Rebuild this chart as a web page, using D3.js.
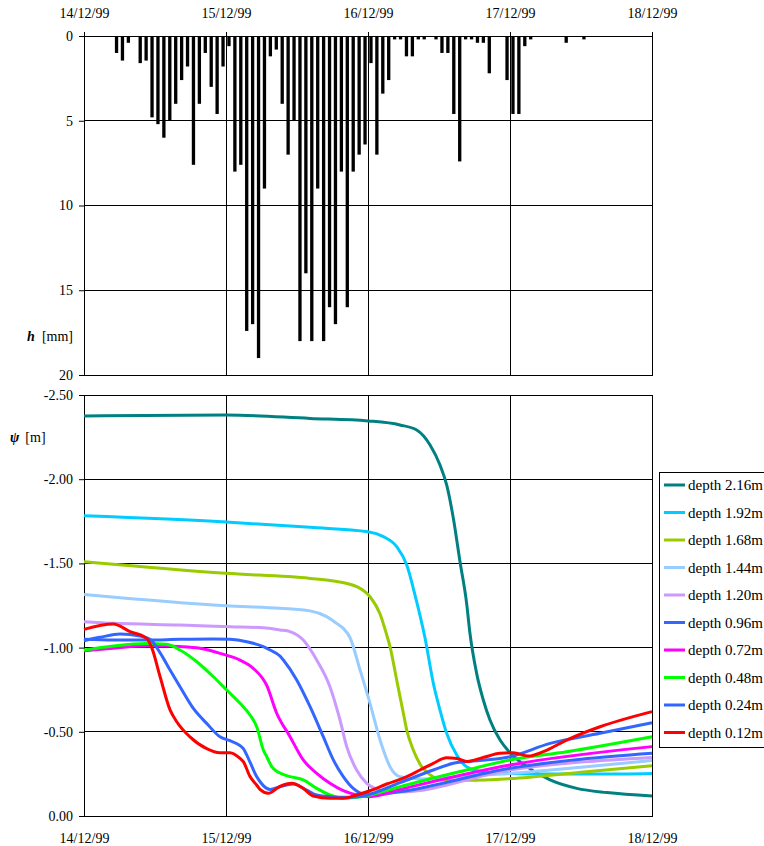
<!DOCTYPE html>
<html>
<head>
<meta charset="utf-8">
<script src="https://cdn.jsdelivr.net/npm/d3@7"></script>
<style>
	body { margin: 0; background: #fff; }
	svg text { font-family: "Liberation Serif", "DejaVu Serif", serif !important; fill: #000; }
	.tick text { font-size: 14px; }
	.grid { stroke: #000; stroke-width: 1; shape-rendering: crispEdges; }
</style>
</head>
<body>
<div id="chart"></div>
<script>
	var width = 764, height = 846;
	var left = 84, right = 652;
	var serif = '"Liberation Serif", "DejaVu Serif", serif';

	// day ticks
	const dayLabels = ['14/12/99', '15/12/99', '16/12/99', '17/12/99', '18/12/99'];

	// hourly rainfall h [mm], hour 0 = 14/12/99 00:00
	const rain = [
		0, 0, 0, 0, 0, 1.0, 1.45, 0.4, 0, 1.6, 1.45, 4.8, 5.2, 6.0, 5.0, 4.0, 2.6, 1.8, 7.6, 4.0, 1.0, 3.0, 4.6, 1.8,
		0.6, 8.0, 7.6, 17.4, 17.0, 19.0, 9.0, 1.2, 0.8, 4.0, 7.0, 5.0, 18.0, 14.0, 18.0, 9.0, 18.0, 16.0, 17.0, 8.0,
		16.0, 8.0, 7.0, 6.4, 1.6, 7.0, 3.4, 2.6, 0.2, 0.2, 1.2, 1.2, 0.2, 0.2, 0, 0.2, 1.0, 1.0, 4.6, 7.4, 0.2, 0.2,
		0.4, 0.4, 2.2, 0, 0, 2.6, 4.6, 4.6, 0.6, 0.2, 0, 0, 0, 0, 0, 0.4, 0, 0, 0.2, 0, 0, 0, 0, 0, 0, 0, 0, 0, 0, 0
	];

	const hTicks = [0, 5, 10, 15, 20];
	const psiTicks = [-2.5, -2.0, -1.5, -1.0, -0.5, 0];
	const psiLabels = ['-2.50', '-2.00', '-1.50', '-1.00', '-0.50', '0.00'];

	const depths = ['depth 2.16m', 'depth 1.92m', 'depth 1.68m', 'depth 1.44m', 'depth 1.20m',
		'depth 0.96m', 'depth 0.72m', 'depth 0.48m', 'depth 0.24m', 'depth 0.12m'];
	const colors = ['#008080', '#00ccff', '#99cc00', '#99ccff', '#cc99ff',
		'#3366ff', '#ff00ff', '#00ff00', '#3366ff', '#ff0000'];

	// psi [m] series, [day since 14/12/99, value]
	const psi216 = [[0, -2.375], [1.0, -2.381], [1.592, -2.361], [2.0, -2.346], [2.225, -2.322], [2.343, -2.292],
		[2.437, -2.203], [2.507, -2.084], [2.554, -1.966], [2.601, -1.768], [2.648, -1.51], [2.695, -1.26],
		[2.718, -1.085], [2.765, -0.847], [2.812, -0.689], [2.859, -0.57], [2.93, -0.451], [3.0, -0.376],
		[3.118, -0.293], [3.282, -0.214], [3.47, -0.164], [3.681, -0.139], [4.0, -0.119]];
	const psi192 = [[0, -1.783], [1.0, -1.746], [1.592, -1.714], [2.0, -1.688], [2.108, -1.659], [2.202, -1.599],
		[2.273, -1.49], [2.331, -1.312], [2.401, -1.06], [2.46, -0.788], [2.507, -0.629], [2.554, -0.491],
		[2.625, -0.362], [2.695, -0.293], [2.812, -0.263], [3.0, -0.253], [3.282, -0.249], [3.634, -0.249], [4.0, -0.253]];
	const psi168 = [[0, -1.51], [1.0, -1.441], [1.592, -1.411], [1.756, -1.396], [1.92, -1.362], [2.014, -1.302],
		[2.085, -1.2], [2.132, -1.075], [2.155, -1.006], [2.202, -0.808], [2.249, -0.61], [2.273, -0.51],
		[2.319, -0.392], [2.378, -0.293], [2.437, -0.245], [2.507, -0.215], [2.7, -0.212], [3.0, -0.222],
		[3.5, -0.26], [4.0, -0.299]];
	const psi144 = [[0, -1.316], [1.0, -1.249], [1.38, -1.233], [1.592, -1.218], [1.709, -1.184], [1.779, -1.144],
		[1.826, -1.114], [1.873, -1.06], [1.944, -0.867], [2.014, -0.669], [2.085, -0.451], [2.155, -0.293],
		[2.225, -0.234], [2.366, -0.22], [2.648, -0.235], [3.0, -0.253], [3.5, -0.29], [4.0, -0.329]];
	const psi120 = [[0, -1.154], [0.206, -1.144], [0.676, -1.134], [1.028, -1.124], [1.263, -1.118], [1.38, -1.105],
		[1.451, -1.095], [1.544, -1.045], [1.639, -0.926], [1.732, -0.768], [1.803, -0.57], [1.85, -0.412],
		[1.92, -0.273], [1.991, -0.194], [2.061, -0.16], [2.155, -0.145], [2.225, -0.142], [3.0, -0.273], [4.0, -0.348]];
	const psi096 = [[0, -1.049], [0.206, -1.045], [0.441, -1.045], [0.676, -1.049], [0.911, -1.051], [1.028, -1.049],
		[1.146, -1.035], [1.263, -1.006], [1.31, -0.986], [1.38, -0.95], [1.404, -0.926], [1.498, -0.808],
		[1.592, -0.649], [1.685, -0.471], [1.756, -0.333], [1.826, -0.234], [1.896, -0.164], [1.967, -0.131],
		[2.085, -0.13], [2.225, -0.144], [3.0, -0.283], [4.0, -0.372]];
	const psi072 = [[0, -0.982], [0.206, -0.996], [0.441, -1.011], [0.676, -1.006], [0.817, -0.996], [0.958, -0.966],
		[1.099, -0.926], [1.192, -0.877], [1.287, -0.775], [1.357, -0.61], [1.451, -0.471], [1.544, -0.333],
		[1.639, -0.253], [1.732, -0.194], [1.826, -0.15], [1.92, -0.125], [2.014, -0.115], [2.225, -0.158],
		[3.0, -0.303], [4.0, -0.412]];
	const psi048 = [[0, -0.986], [0.206, -1.01], [0.441, -1.025], [0.582, -1.02], [0.676, -0.986], [0.794, -0.916],
		[0.911, -0.827], [1.005, -0.748], [1.099, -0.669], [1.169, -0.6], [1.216, -0.53], [1.263, -0.392],
		[1.287, -0.352], [1.322, -0.293], [1.38, -0.255], [1.451, -0.234], [1.544, -0.214], [1.639, -0.164],
		[1.732, -0.125], [1.826, -0.105], [1.92, -0.111], [2.014, -0.125], [2.225, -0.174], [2.695, -0.273],
		[3.0, -0.333], [3.399, -0.382], [4.0, -0.471]];
	const psi024 = [[0, -1.041], [0.113, -1.061], [0.254, -1.081], [0.394, -1.069], [0.465, -1.049], [0.535, -0.97],
		[0.606, -0.867], [0.676, -0.768], [0.77, -0.639], [0.864, -0.55], [0.958, -0.47], [1.028, -0.447],
		[1.099, -0.418], [1.122, -0.4], [1.169, -0.32], [1.216, -0.234], [1.239, -0.205], [1.287, -0.164],
		[1.31, -0.158], [1.38, -0.174], [1.474, -0.19], [1.568, -0.154], [1.639, -0.125], [1.732, -0.115],
		[1.873, -0.111], [1.967, -0.119], [2.225, -0.198], [2.46, -0.273], [2.601, -0.313], [2.695, -0.323],
		[3.0, -0.352], [3.282, -0.431], [3.634, -0.491], [4.0, -0.554]];
	const psi012 = [[0, -1.108], [0.206, -1.14], [0.324, -1.095], [0.441, -1.055], [0.477, -1.0], [0.535, -0.83],
		[0.606, -0.63], [0.653, -0.56], [0.746, -0.47], [0.864, -0.4], [0.958, -0.376], [1.028, -0.376],
		[1.099, -0.342], [1.122, -0.323], [1.169, -0.234], [1.216, -0.184], [1.239, -0.158], [1.298, -0.135],
		[1.38, -0.176], [1.463, -0.194], [1.544, -0.164], [1.615, -0.119], [1.732, -0.105], [1.826, -0.105],
		[1.92, -0.125], [2.014, -0.15], [2.132, -0.19], [2.249, -0.225], [2.366, -0.273], [2.46, -0.313],
		[2.554, -0.346], [2.625, -0.342], [2.695, -0.323], [2.812, -0.348], [2.93, -0.372], [3.023, -0.376],
		[3.129, -0.356], [3.235, -0.382], [3.399, -0.451], [3.634, -0.53], [4.0, -0.62]];

	const series = [psi216, psi192, psi168, psi144, psi120, psi096, psi072, psi048, psi024, psi012];

	var start = new Date(1999, 11, 14);
	function toDate(day) {
		return new Date(start.getTime() + day * 864e5);
	}

	var x = d3.scaleTime()
		.domain([start, toDate(4)])
		.range([left, right]);
	var dayTicks = d3.range(5).map(toDate);

	var svg = d3.select('#chart')
		.append('svg')
		.attr('width', width + 'px')
		.attr('height', height + 'px')
		.attr('font-family', serif);

	displayRain();
	displayPsi();
	displayLegend();

	// d3 axes put sans-serif on their group, set it back
	svg.selectAll('g').attr('font-family', serif);
	svg.selectAll('text').attr('font-family', serif);

	function displayRain() {
		var top = 36, bottom = 375;
		var y = d3.scaleLinear()
			.domain([0, 20])
			.range([top, bottom]);

		// grid
		svg.append('g').selectAll('line')
			.data(hTicks.slice(1, -1))
			.enter()
			.append('line')
			.attr('class', 'grid')
			.attr('x1', left).attr('x2', right)
			.attr('y1', d => y(d)).attr('y2', d => y(d));
		svg.append('g').selectAll('line')
			.data(dayTicks.slice(1, -1))
			.enter()
			.append('line')
			.attr('class', 'grid')
			.attr('x1', d => x(d)).attr('x2', d => x(d))
			.attr('y1', top).attr('y2', bottom);

		var hourW = x(d3.timeHour.offset(start, 1)) - x(start);
		var barW = hourW * 0.56;

		svg.append('g').selectAll('rect')
			.data(rain)
			.enter()
			.append('rect')
			.attr('x', (d, i) => x(d3.timeMinute.offset(start, i * 60 + 30)) - barW / 2)
			.attr('y', y(0))
			.attr('width', barW)
			.attr('height', d => y(d) - y(0))
			.attr('fill', '#000');

		svg.append('rect')
			.attr('class', 'grid')
			.attr('x', left).attr('y', top)
			.attr('width', right - left).attr('height', bottom - top)
			.attr('fill', 'none');

		var yAxis = d3.axisLeft(y).tickValues(hTicks).tickSize(5).tickPadding(6);
		svg.append('g')
			.attr('transform', 'translate(' + left + ',0)')
			.call(yAxis)
			.call(g => g.select('.domain').remove());

		var xAxis = d3.axisTop(x).tickValues(dayTicks).tickSize(4).tickPadding(14)
			.tickFormat((d, i) => dayLabels[i]);
		svg.append('g')
			.attr('transform', 'translate(0,' + top + ')')
			.call(xAxis)
			.call(g => g.select('.domain').remove());

		var lab = svg.append('text')
			.attr('x', 73).attr('y', 341)
			.attr('text-anchor', 'end')
			.style('font-size', '14px');
		lab.append('tspan').style('font-style', 'italic').style('font-weight', 'bold').text('h');
		lab.append('tspan').attr('dx', 7).text('[mm]');
	}

	function displayPsi() {
		var top = 395, bottom = 816;
		var y = d3.scaleLinear()
			.domain([0, -2.5])
			.range([bottom, top]);

		svg.append('g').selectAll('line')
			.data(psiTicks.slice(1, -1))
			.enter()
			.append('line')
			.attr('class', 'grid')
			.attr('x1', left).attr('x2', right)
			.attr('y1', d => y(d)).attr('y2', d => y(d));
		svg.append('g').selectAll('line')
			.data(dayTicks.slice(1, -1))
			.enter()
			.append('line')
			.attr('class', 'grid')
			.attr('x1', d => x(d)).attr('x2', d => x(d))
			.attr('y1', top).attr('y2', bottom);

		svg.append('rect')
			.attr('class', 'grid')
			.attr('x', left).attr('y', top)
			.attr('width', right - left).attr('height', bottom - top)
			.attr('fill', 'none');

		var line = d3.line()
			.curve(d3.curveMonotoneX)
			.x(d => x(toDate(d[0])))
			.y(d => y(d[1]));

		svg.append('g').selectAll('path')
			.data(series)
			.enter()
			.append('path')
			.attr('d', line)
			.attr('fill', 'none')
			.attr('stroke', (d, i) => colors[i])
			.attr('stroke-width', 3)
			.attr('stroke-linejoin', 'round');

		var yAxis = d3.axisLeft(y).tickValues(psiTicks).tickSize(5).tickPadding(6)
			.tickFormat((d, i) => psiLabels[i]);
		svg.append('g')
			.attr('transform', 'translate(' + left + ',0)')
			.call(yAxis)
			.call(g => g.select('.domain').remove());

		var xAxis = d3.axisBottom(x).tickValues(dayTicks).tickSize(0).tickPadding(17)
			.tickFormat((d, i) => dayLabels[i]);
		svg.append('g')
			.attr('transform', 'translate(0,' + bottom + ')')
			.call(xAxis)
			.call(g => g.select('.domain').remove());

		var lab = svg.append('text')
			.attr('x', 10).attr('y', 442)
			.style('font-size', '14px');
		lab.append('tspan').style('font-style', 'italic').style('font-weight', 'bold').text('ψ');
		lab.append('tspan').attr('dx', 6).text('[m]');
	}

	function displayLegend() {
		var lg = svg.append('g').attr('transform', 'translate(659,472)');
		lg.append('rect')
			.attr('class', 'grid')
			.attr('x', 0).attr('y', 0)
			.attr('width', 115).attr('height', 275)
			.attr('fill', '#fff');

		var item = lg.selectAll('.item')
			.data(depths)
			.enter()
			.append('g')
			.attr('class', 'item')
			.attr('transform', (d, i) => 'translate(0,' + (13 + i * 27.5) + ')');
		item.append('line')
			.attr('x1', 5).attr('x2', 26)
			.attr('stroke', (d, i) => colors[i])
			.attr('stroke-width', 3);
		item.append('text')
			.attr('x', 29).attr('y', 5)
			.style('font-size', '15px')
			.text(d => d);
	}
</script>
</body>
</html>
